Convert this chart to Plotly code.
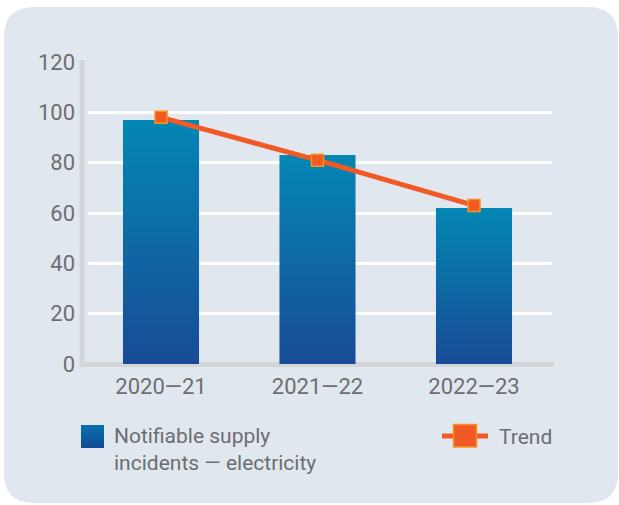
import plotly.graph_objects as go

categories = ["2020—21", "2021—22", "2022—23"]
incidents = [97, 83, 62]
trend = [98, 81, 63]
y_ticks = [0, 20, 40, 60, 80, 100, 120]

W, H = 619, 505
L, R, T, B = 88, 552, 62, 364
pw, ph = R - L, B - T

def px(x):
    return (x - L) / pw

def py(y):
    return (B - y) / ph

TXT = "#6d6e71"
FONT = "Roboto"
BAR_TOP = "#0487b4"
BAR_BOT = "#184b96"
ORANGE = "#f15a24"
ORANGE_EDGE = "#f7941d"

fig = go.Figure()

half = 0.243
for i, v in enumerate(incidents):
    fig.add_trace(go.Scatter(
        x=[i - half, i + half, i + half, i - half, i - half],
        y=[0, 0, v, v, 0],
        mode="none", fill="toself",
        fillgradient=dict(type="vertical",
                          colorscale=[[0, BAR_BOT], [1, BAR_TOP]]),
        showlegend=False, hoverinfo="skip",
    ))

fig.add_trace(go.Scatter(
    x=list(range(len(categories))), y=trend,
    mode="lines+markers",
    line=dict(color=ORANGE, width=5),
    marker=dict(symbol="square", size=12, color=ORANGE,
                line=dict(color=ORANGE_EDGE, width=1.5)),
    showlegend=False, name="Trend",
))

shapes = []
# rounded panel
x0, x1, y0, y1 = 4, 618, 7, 503
r = 30
path = (f"M {px(x0+r)},{py(y0)} L {px(x1-r)},{py(y0)} Q {px(x1)},{py(y0)} {px(x1)},{py(y0+r)} "
        f"L {px(x1)},{py(y1-r)} Q {px(x1)},{py(y1)} {px(x1-r)},{py(y1)} "
        f"L {px(x0+r)},{py(y1)} Q {px(x0)},{py(y1)} {px(x0)},{py(y1-r)} "
        f"L {px(x0)},{py(y0+r)} Q {px(x0)},{py(y0)} {px(x0+r)},{py(y0)} Z")
shapes.append(dict(type="path", path=path, xref="paper", yref="paper",
                   fillcolor="#e1e7ef", line=dict(width=0), layer="below"))
# axis lines
shapes.append(dict(type="line", xref="paper", yref="paper",
                   x0=px(82), x1=px(82), y0=py(60), y1=py(366),
                   line=dict(color="#d3d5d8", width=5), layer="between"))
shapes.append(dict(type="line", xref="paper", yref="paper",
                   x0=px(80), x1=px(554), y0=py(364.5), y1=py(364.5),
                   line=dict(color="#d3d5d8", width=5), layer="between"))

# legend: gradient square (overlapping strips, no seams)
n = 16
sq_x0, sq_x1, sq_y0, sq_y1 = 81, 104, 425, 448
def mix(c1, c2, t):
    a = [int(c1[k:k+2], 16) for k in (1, 3, 5)]
    b = [int(c2[k:k+2], 16) for k in (1, 3, 5)]
    return "#" + "".join(f"{round(a[j]+(b[j]-a[j])*t):02x}" for j in range(3))
for k in range(n):
    ya = sq_y0 + (sq_y1 - sq_y0) * k / n
    shapes.append(dict(type="rect", xref="paper", yref="paper",
                       x0=px(sq_x0), x1=px(sq_x1), y0=py(ya), y1=py(sq_y1),
                       fillcolor=mix("#0a70ad", "#0f4b96", k / (n - 1)),
                       line=dict(width=0), layer="above"))
# trend legend
shapes.append(dict(type="line", xref="paper", yref="paper",
                   x0=px(442), x1=px(488), y0=py(436), y1=py(436),
                   line=dict(color=ORANGE, width=5), layer="above"))
shapes.append(dict(type="rect", xref="paper", yref="paper",
                   x0=px(453.5), x1=px(476.5), y0=py(424.5), y1=py(447),
                   fillcolor=ORANGE, line=dict(color=ORANGE_EDGE, width=1.5), layer="above"))

annotations = [
    dict(text="Notifiable supply<br>incidents — electricity", xref="paper", yref="paper",
         x=px(112), y=py(449), xanchor="left", yanchor="middle", align="left",
         showarrow=False, font=dict(family=FONT, size=21, color=TXT)),
    dict(text="Trend", xref="paper", yref="paper",
         x=px(497), y=py(437), xanchor="left", yanchor="middle", align="left",
         showarrow=False, font=dict(family=FONT, size=21, color=TXT)),
]

fig.update_layout(
    width=W, height=H,
    margin=dict(l=L, r=W - R, t=T, b=H - B, pad=0),
    paper_bgcolor="white", plot_bgcolor="rgba(0,0,0,0)",
    shapes=shapes, annotations=annotations,
    showlegend=False,
    xaxis=dict(range=[-(161 - L) / 156.5, 2 + (R - 474) / 156.5],
               tickvals=list(range(len(categories))), ticktext=categories,
               showgrid=False, zeroline=False, showline=False, ticks="",
               ticklabelstandoff=7,
               tickfont=dict(family=FONT, size=22, color=TXT)),
    yaxis=dict(range=[0, 120], tickvals=y_ticks, showgrid=True,
               gridcolor="white", gridwidth=3, zeroline=False, showline=False,
               ticks="", ticklabelstandoff=12,
               tickfont=dict(family=FONT, size=22, color=TXT)),
    font=dict(family=FONT, color=TXT),
)

fig.write_html("out.html")
